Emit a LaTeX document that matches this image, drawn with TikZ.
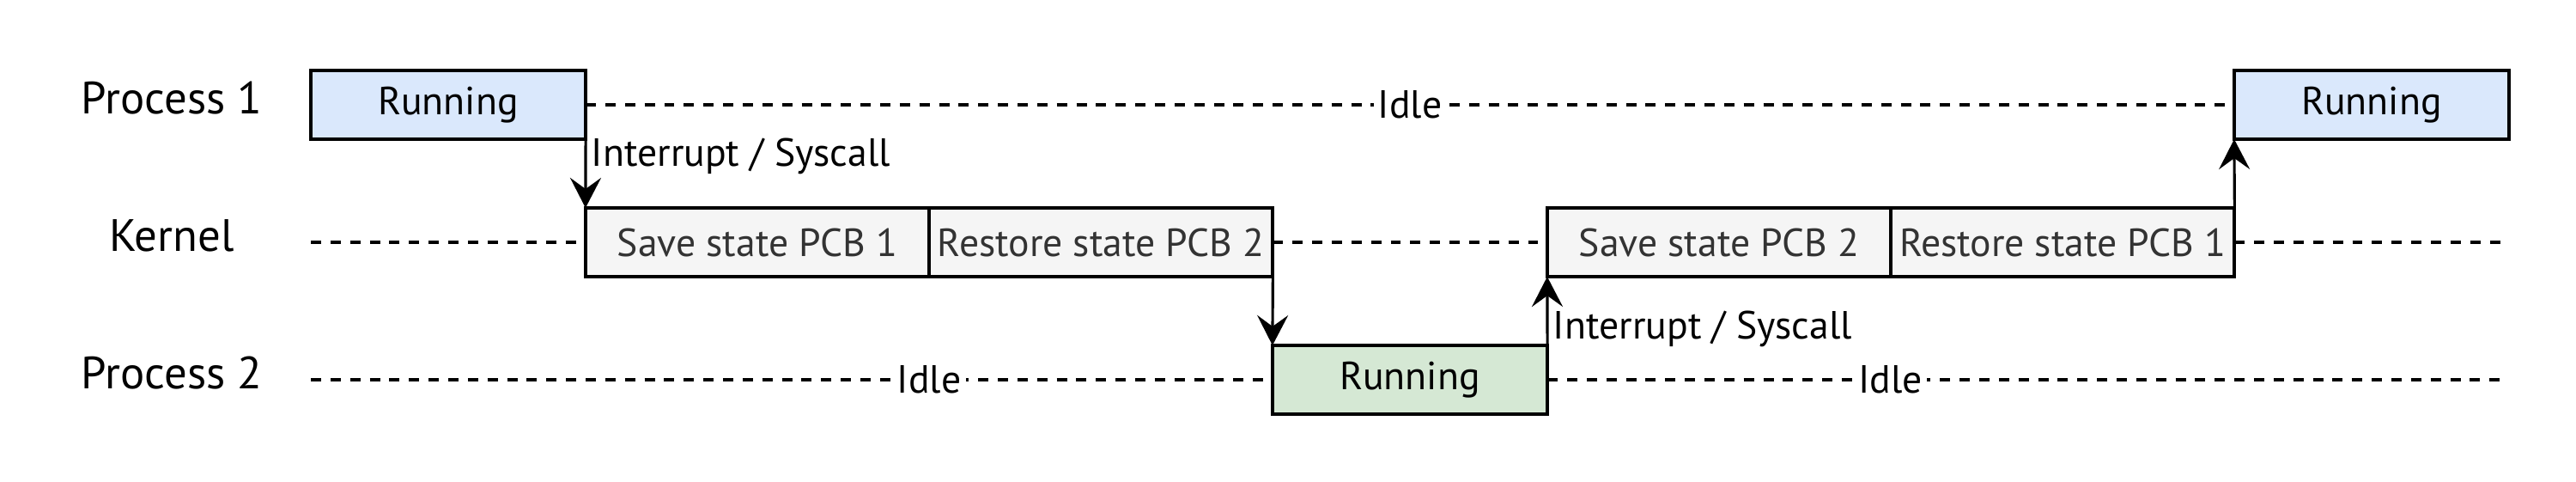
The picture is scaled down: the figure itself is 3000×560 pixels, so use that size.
\documentclass[tikz,border=0pt]{standalone}
\usepackage{fontspec}
\setmainfont{PT Sans}
\usetikzlibrary{arrows.meta,positioning}
\definecolor{cUser}{HTML}{DAE8FC}
\definecolor{cOther}{HTML}{D5E8D4}
\definecolor{cKern}{HTML}{F5F5F5}
\definecolor{cKernText}{HTML}{333333}

\begin{document}
\begin{tikzpicture}[x=0.01cm,y=-0.01cm,
  slot/.style={draw,line width=1.2pt,minimum width=3.2cm,minimum height=0.8cm,
    inner sep=0pt,outer sep=0pt,font=\fontsize{13}{16}\selectfont},
  userrun/.style={slot,fill=cUser},
  otherrun/.style={slot,fill=cOther},
  kern/.style={slot,fill=cKern,text=cKernText,minimum width=4cm},
  lane/.style={font=\fontsize{15}{18}\selectfont},
  idle/.style={line width=1.15pt,dash pattern=on 3.4pt off 3.1pt},
  idlelbl/.style={fill=white,inner sep=1.5pt,font=\fontsize{13}{16}\selectfont},
  switch/.style={->,line width=0.9pt},
  trap/.style={inner sep=1.5pt,font=\fontsize{13}{16}\selectfont},
  >={Stealth[length=0.35cm,width=0.36cm,inset=0.13cm]}]

\useasboundingbox (0,0) rectangle (3000,560);

% lane labels
\node[lane] (lp1) at (200,114) {Process 1};
\node[lane] (lk)  at (200,274) {Kernel};
\node[lane] (lp2) at (200,434) {Process 2};

% free ends of the lanes
\coordinate (kL)  at (362,282);
\coordinate (kR)  at (2922,282);
\coordinate (p2L) at (362,442);
\coordinate (p2R) at (2922,442);

%============================ slots ============================
\node[userrun] (pa1) at (522,122) {Running};
\node[kern] (sv1) at (882,282) {Save state PCB 1};
\node[kern,right=0pt of sv1] (rs2) {Restore state PCB 2};
\node[otherrun] (pb) at (1642,442) {Running};
\node[kern] (sv2) at (2002,282) {Save state PCB 2};
\node[kern,right=0pt of sv2] (rs1) {Restore state PCB 1};
\node[userrun] (pa2) at (2762,122) {Running};

%============================ idle lanes ============================
\draw[idle] (pa1.east) -- (pa2.west) node[idlelbl,midway] {Idle};
\draw[idle] (kL) -- (sv1.west);
\draw[idle] (rs2.east) -- (sv2.west);
\draw[idle] (rs1.east) -- (kR);
\draw[idle] (p2L) -- (pb.west) node[idlelbl,pos=0.643] {Idle};
\draw[idle] (pb.east) -- (p2R) node[idlelbl,pos=0.357] {Idle};

%============================ switches ============================
\draw[switch] (pa1.south east) -- (sv1.north west)
  node[trap,pos=0,anchor=north west,yshift=2.3pt] {Interrupt / Syscall};
\draw[switch] (rs2.south east) -- (pb.north west);
\draw[switch] (pb.north east) -- (sv2.south west)
  node[trap,pos=0,anchor=south west,yshift=-2.6pt] {Interrupt / Syscall};
\draw[switch] (rs1.north east) -- (pa2.south west);

\end{tikzpicture}
\end{document}
